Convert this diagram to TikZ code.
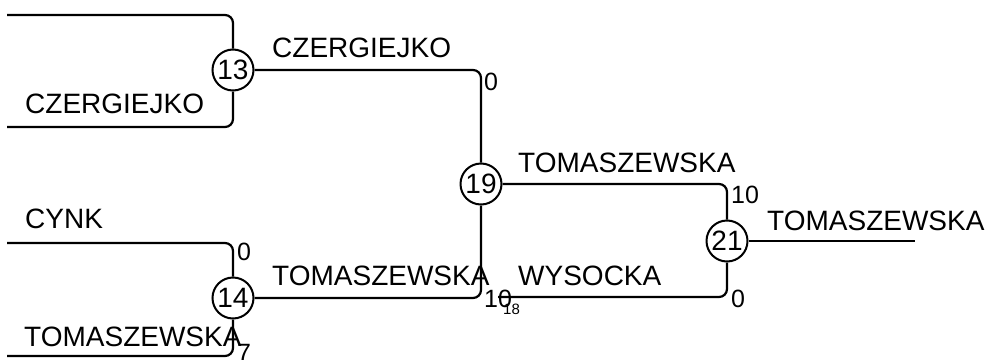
\documentclass[tikz,border=0pt]{standalone}
\usepackage{fontspec}
\setmainfont{Liberation Sans}
\begin{document}
\begin{tikzpicture}[x=1pt,y=-1pt,
  matchnode/.style={circle,draw,line width=2pt,minimum size=41pt,inner sep=0pt,font=\fontsize{28}{30}\selectfont},
  conn/.style={line width=2.2pt,rounded corners=8pt},
  playername/.style={anchor=base west,inner sep=0pt,font=\fontsize{28}{30}\selectfont},
  scorelabel/.style={anchor=base west,inner sep=0pt,font=\fontsize{25}{28}\selectfont},
  tinylabel/.style={anchor=base west,inner sep=0pt,font=\fontsize{15}{17}\selectfont}]
\useasboundingbox (0,0) rectangle (988,359);
\node[matchnode] (n13) at (233,70) {13};
\node[matchnode] (n14) at (233,298) {14};
\node[matchnode] (n19) at (481,184) {19};
\node[matchnode] (n21) at (727,241) {21};
\coordinate (a1) at (7,15);
\coordinate (a2) at (7,127);
\coordinate (b1) at (7,243);
\coordinate (b2) at (7,356);
\coordinate (c18) at (498,297);
\coordinate (e) at (915,241);
\draw[conn] (a1) -| (n13);
\draw[conn] (a2) -| (n13);
\draw[conn] (b1) -| (n14);
\draw[conn] (b2) -| (n14);
\draw[conn] (n13) -| (n19);
\draw[conn] (n14) -| (n19);
\draw[conn] (n19) -| (n21);
\draw[conn] (c18) -| (n21);
\draw[conn] (n21) -- (e);
\node[playername] (t1) at (25,113) {CZERGIEJKO};
\node[playername] (t2) at (25,228) {CYNK};
\node[playername] (t3) at (24,346) {TOMASZEWSKA};
\node[playername] (t4) at (272,57) {CZERGIEJKO};
\node[playername] (t5) at (272,285) {TOMASZEWSKA};
\node[playername] (t6) at (518,172) {TOMASZEWSKA};
\node[playername] (t7) at (518,285) {WYSOCKA};
\node[playername] (t8) at (767,230) {TOMASZEWSKA};
\node[scorelabel] (s1) at (484,90) {0};
\node[scorelabel] (s2) at (237,260) {0};
\node[scorelabel] (s3) at (237,361) {7};
\node[scorelabel] (s4) at (484,307) {10};
\node[scorelabel] (s5) at (731,203) {10};
\node[scorelabel] (s6) at (731,307) {0};
\node[tinylabel] (s7) at (503,314) {18};
\end{tikzpicture}
\end{document}
